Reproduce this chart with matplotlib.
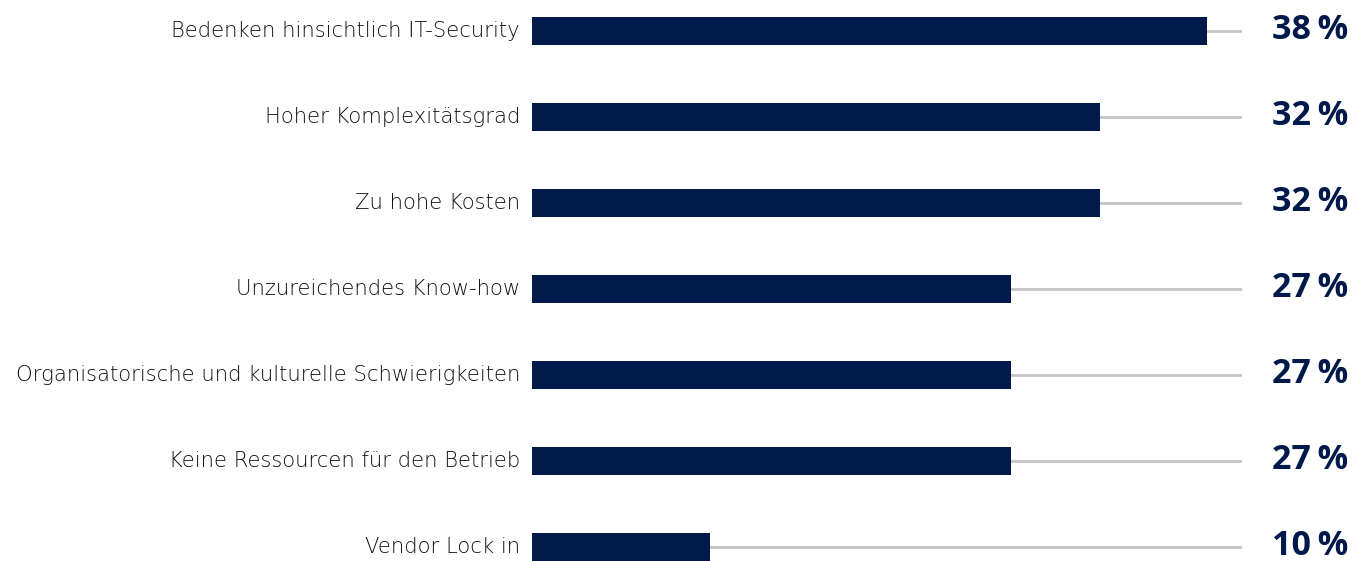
import matplotlib
matplotlib.use("Agg")
import matplotlib.pyplot as plt
from matplotlib.transforms import blended_transform_factory

# Data
categories = [
    "Bedenken hinsichtlich IT-Security",
    "Hoher Komplexitätsgrad",
    "Zu hohe Kosten",
    "Unzureichendes Know-how",
    "Organisatorische und kulturelle Schwierigkeiten",
    "Keine Ressourcen für den Betrieb",
    "Vendor Lock in",
]
values = [38, 32, 32, 27, 27, 27, 10]
track_max = 40

navy = "#00194b"
gray = "#c4c4c4"

W, H = 1353, 561
fig = plt.figure(figsize=(W / 100, H / 100), dpi=100)
ax = fig.add_axes([532 / W, 0, 710 / W, 1])

ypos = list(range(len(categories)))

# gray track behind each bar
ax.hlines(ypos, 0, track_max, color=gray, linewidth=2, zorder=1)
ax.barh(ypos, values, height=0.33, color=navy, zorder=2)

ax.set_xlim(0, track_max)
ax.set_ylim((H - 31) / 86, -31 / 86)
ax.axis("off")

lab_tr = blended_transform_factory(fig.transFigure, ax.transData)
for y, cat, v in zip(ypos, categories, values):
    ax.text(520 / W, y, cat, transform=lab_tr, ha="right", va="center",
            fontsize=15.2, fontweight="light", color="#111111",
            family=["DejaVu Sans"])
    ax.text(1348 / W, y - 0.01, f"{v}\u2009%", transform=lab_tr, ha="right",
            va="center", fontsize=24.5, fontweight="bold", color=navy,
            family=["Open Sans", "DejaVu Sans"])

fig.savefig("out.png", dpi=100)
